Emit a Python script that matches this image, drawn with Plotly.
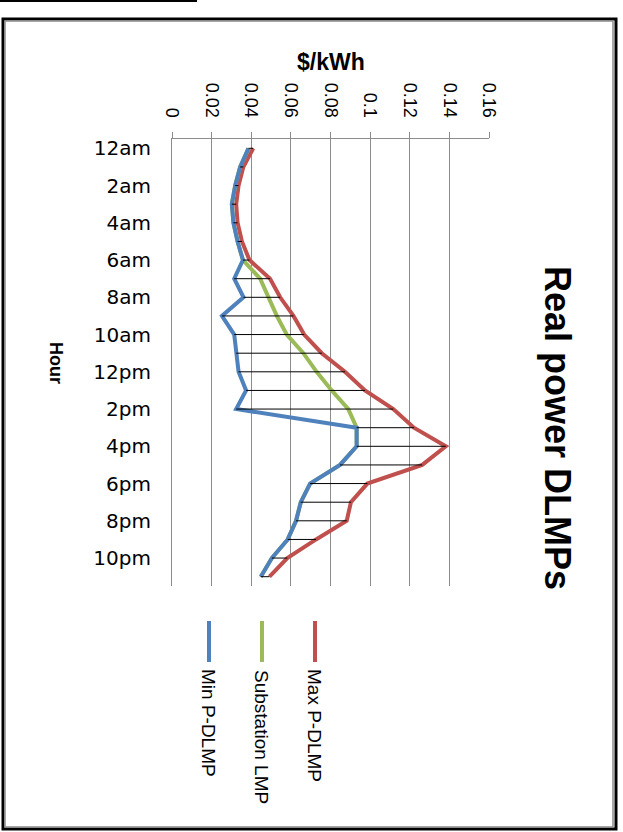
import plotly.graph_objects as go

# ---- data ----
hours = ["12am", "1am", "2am", "3am", "4am", "5am", "6am", "7am", "8am", "9am", "10am", "11am",
         "12pm", "1pm", "2pm", "3pm", "4pm", "5pm", "6pm", "7pm", "8pm", "9pm", "10pm", "11pm"]
max_p_dlmp = [0.0410, 0.0360, 0.0336, 0.0324, 0.0331, 0.0353, 0.0391, 0.0495, 0.0546, 0.0613,
              0.0667, 0.0756, 0.0873, 0.0974, 0.1117, 0.1221, 0.1382, 0.1263, 0.0986, 0.0903,
              0.0882, 0.0727, 0.0582, 0.0492]
substation_lmp = [0.0386, 0.0344, 0.0319, 0.0302, 0.0310, 0.0331, 0.0358, 0.0445, 0.0487, 0.0529,
                  0.0579, 0.0663, 0.0730, 0.0806, 0.0890, 0.0932, 0.0932, 0.0848, 0.0697, 0.0650,
                  0.0626, 0.0584, 0.0504, 0.0448]
min_p_dlmp = [0.0386, 0.0344, 0.0319, 0.0302, 0.0310, 0.0331, 0.0358, 0.0314, 0.0361, 0.0252,
              0.0314, 0.0324, 0.0336, 0.0374, 0.0324, 0.0932, 0.0932, 0.0848, 0.0697, 0.0650,
              0.0626, 0.0584, 0.0504, 0.0448]
tick_hours = hours[::2]

title_text = "Real power DLMPs"
value_axis_title = "$/kWh"
category_axis_title = "Hour"
series_names = ["Max P-DLMP", "Substation LMP", "Min P-DLMP"]
series_colors = ["#C0504D", "#9BBB59", "#4F81BD"]

# ---- layout geometry (pixels) ----
W, H = 623, 832
PL, PR, PT, PB = 172, 489, 139, 586


def px_x(px):
    return (px - PL) / (PR - PL)


def px_y(py):
    return (PB - py) / (PB - PT)


fig = go.Figure()

for name, vals, col in [(series_names[0], max_p_dlmp, series_colors[0]),
                        (series_names[1], substation_lmp, series_colors[1]),
                        (series_names[2], min_p_dlmp, series_colors[2])]:
    fig.add_trace(go.Scatter(x=vals, y=hours, mode="lines", name=name,
                             line=dict(color=col, width=4), showlegend=False))

# high-low lines
hx, hy = [], []
for h, a, b, c in zip(hours, max_p_dlmp, substation_lmp, min_p_dlmp):
    hx += [min(a, b, c), max(a, b, c), None]
    hy += [h, h, None]
fig.add_trace(go.Scatter(x=hx, y=hy, mode="lines", line=dict(color="black", width=1),
                         showlegend=False, hoverinfo="skip"))

shapes = []
# outer frame
shapes.append(dict(type="rect", xref="paper", yref="paper",
                   x0=px_x(3), x1=px_x(616), y0=px_y(829), y1=px_y(19),
                   line=dict(color="black", width=3)))
shapes.append(dict(type="rect", xref="paper", yref="paper",
                   x0=px_x(5), x1=px_x(613), y0=px_y(827), y1=px_y(21),
                   line=dict(color="#8c8c8c", width=1.5)))
# small box at top-left
shapes.append(dict(type="line", xref="paper", yref="paper",
                   x0=px_x(0), x1=px_x(196), y0=px_y(1), y1=px_y(1),
                   line=dict(color="black", width=2)))
shapes.append(dict(type="line", xref="paper", yref="paper",
                   x0=px_x(196), x1=px_x(196), y0=px_y(0), y1=px_y(2),
                   line=dict(color="black", width=2)))

annotations = []
# legend (rotated)
leg_x = [315, 262, 209]
leg_text_y = [725, 737, 723]
for name, col, lx, ty in zip(series_names, series_colors, leg_x, leg_text_y):
    shapes.append(dict(type="line", xref="paper", yref="paper",
                       x0=px_x(lx), x1=px_x(lx), y0=px_y(621), y1=px_y(662),
                       line=dict(color=col, width=4)))
    annotations.append(dict(text=name, xref="paper", yref="paper",
                            x=px_x(lx), y=px_y(ty), showarrow=False, textangle=90,
                            xanchor="center", yanchor="middle",
                            font=dict(family="Liberation Sans", size=19, color="black")))

# title
annotations.append(dict(text="<b>" + title_text + "</b>", xref="paper", yref="paper",
                        x=px_x(558), y=px_y(428), showarrow=False, textangle=90,
                        xanchor="center", yanchor="middle",
                        font=dict(family="Liberation Sans", size=36, color="black")))
# value axis title
annotations.append(dict(text="<b>" + value_axis_title + "</b>", xref="paper", yref="paper",
                        x=px_x(331), y=px_y(62), showarrow=False,
                        xanchor="center", yanchor="middle",
                        font=dict(family="Liberation Sans", size=23, color="black")))
# category axis title
annotations.append(dict(text="<b>" + category_axis_title + "</b>", xref="paper", yref="paper",
                        x=px_x(56), y=px_y(363), showarrow=False, textangle=90,
                        xanchor="center", yanchor="middle",
                        font=dict(family="Liberation Sans", size=18, color="black")))

fig.update_layout(
    width=W, height=H, autosize=False,
    margin=dict(l=PL, r=W - PR, t=PT, b=H - PB, pad=0),
    paper_bgcolor="white", plot_bgcolor="white",
    shapes=shapes, annotations=annotations,
    xaxis=dict(side="top", range=[0, 0.16], dtick=0.02, tick0=0, tickangle=90,
               showgrid=True, gridcolor="#8c8c8c", gridwidth=1, zeroline=False,
               showline=True, linecolor="#8c8c8c", linewidth=1,
               ticks="outside", ticklen=6, tickcolor="#8c8c8c",
               ticklabelstandoff=8,
               tickfont=dict(family="Liberation Sans", size=18, color="black")),
    yaxis=dict(type="category", categoryorder="array", categoryarray=hours,
               range=[23.5, -0.5], tickmode="array", tickvals=tick_hours, ticktext=tick_hours,
               showgrid=False, zeroline=False, showline=True, linecolor="#8c8c8c",
               ticks="", ticklabelstandoff=16,
               tickfont=dict(family="DejaVu Sans", size=20, color="black")),
    showlegend=False,
)

fig.write_html("out.html", config={"displayModeBar": False},
               post_script="document.body.style.margin='0';")
